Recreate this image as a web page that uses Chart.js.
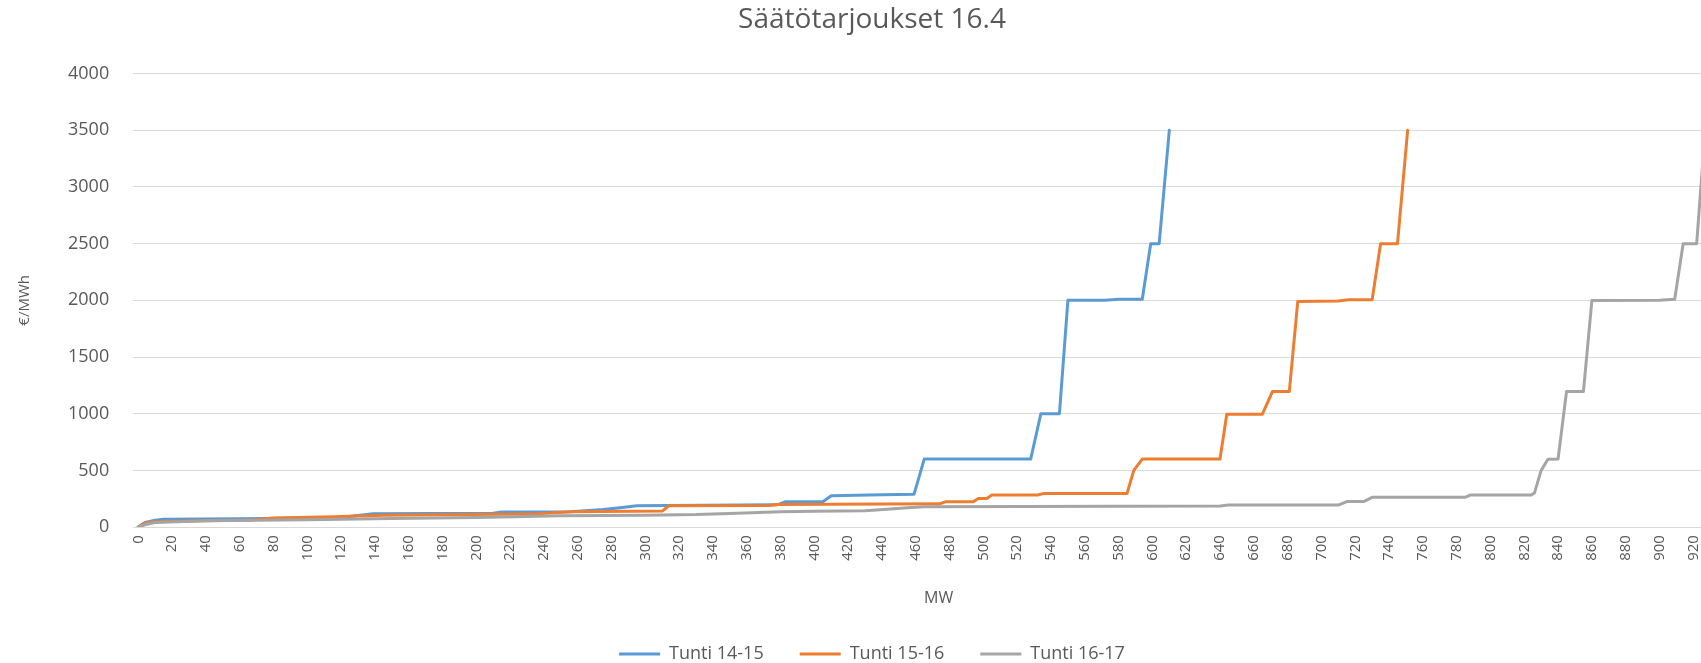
<!DOCTYPE html>
<html lang="fi">
<head>
<meta charset="utf-8">
<title>Säätötarjoukset 16.4</title>
<script src="https://cdn.jsdelivr.net/npm/chart.js@4.4.1/dist/chart.umd.min.js"></script>
<style>
  html, body { margin: 0; padding: 0; background: #fff; overflow: hidden; }
  /* the original picture is cut on the right, so the chart is a bit wider than the window */
  #wrap { position: relative; width: 1744px; height: 663px; }
</style>
</head>
<body>
<div id="wrap"><canvas id="bidChart"></canvas></div>
<script>
// datos: MW acumulado y precio €/MWh
const seriesNames = ['Tunti 14-15', 'Tunti 15-16', 'Tunti 16-17'];

const mw1415    = [0, 4, 10, 15, 60, 122, 126, 139, 210, 215, 256, 275, 285, 295, 313, 378, 383, 405, 410, 440, 459, 465, 528, 534, 545, 550, 572, 580, 594, 599, 604, 610];
const price1415 = [0, 40, 60, 70, 74, 82, 95, 118, 121, 133, 136, 155, 170, 188, 190, 196, 224, 224, 277, 284, 290, 600, 600, 1000, 1000, 2000, 2000, 2010, 2010, 2500, 2500, 3500];

const mw1516    = [0, 3, 8, 14, 66, 80, 116, 125, 145, 213, 236, 256, 310, 314, 373, 378, 474, 478, 494, 497, 502, 505, 532, 536, 585, 589, 594, 640, 644, 665, 671, 681, 686, 710, 716, 730, 735, 745, 751];
const price1516 = [0, 30, 45, 50, 62, 80, 91, 95, 105, 112, 118, 135, 141, 188, 190, 200, 205, 224, 224, 253, 253, 283, 283, 297, 297, 500, 600, 600, 995, 995, 1195, 1195, 1990, 1995, 2005, 2005, 2500, 2500, 3500];

const mw1617    = [0, 5, 10, 40, 100, 150, 200, 250, 300, 330, 350, 380, 400, 430, 445, 455, 465, 640, 645, 710, 715, 725, 730, 785, 788, 824, 826, 830, 834, 840, 845, 855, 860, 900, 909, 914, 922, 927];
const price1617 = [0, 25, 40, 55, 65, 75, 85, 100, 105, 110, 120, 135, 140, 145, 160, 170, 180, 185, 194, 194, 225, 225, 262, 262, 282, 282, 300, 500, 598, 600, 1195, 1195, 1998, 2000, 2010, 2500, 2500, 3500];

const mwTicks    = Array.from({ length: 47 }, (_, i) => i * 20);   // 0, 20, ... 920
const priceTicks = [0, 500, 1000, 1500, 2000, 2500, 3000, 3500, 4000];

const lineColors = ['#5B9BD5', '#ED7D31', '#A5A5A5'];
const textColor  = '#595959';

Chart.defaults.font.family = '"Open Sans", "Liberation Sans", sans-serif';
Chart.defaults.color = textColor;

// 1. arma los puntos {x, y} de cada serie
function toPoints(xs, ys) {
  return xs.map((x, i) => ({ x: x, y: ys[i] }));
}

function makeDataset(idx, xs, ys) {
  return {
    label: seriesNames[idx],
    data: toPoints(xs, ys),
    borderColor: lineColors[idx],
    borderWidth: 3,
    borderJoinStyle: 'round',
    borderCapStyle: 'round',
    tension: 0,
    pointRadius: 0,
    pointHoverRadius: 0,
    pointStyle: 'line',
    pointBorderColor: lineColors[idx],
    pointBorderWidth: 3,
    order: 3 - idx          // como en Excel: la última serie queda encima
  };
}

// 2. crea el gráfico
function initChart() {
  const ctx = document.getElementById('bidChart').getContext('2d');
  return new Chart(ctx, {
    type: 'line',
    data: {
      datasets: [
        makeDataset(0, mw1415, price1415),
        makeDataset(1, mw1516, price1516),
        makeDataset(2, mw1617, price1617)
      ]
    },
    options: {
      responsive: true,
      maintainAspectRatio: false,
      animation: false,
      layout: { padding: { left: 0, right: 0, top: 0, bottom: -10 } },
      plugins: {
        title: {
          display: true,
          text: 'Säätötarjoukset 16.4',
          color: textColor,
          font: { size: 28, weight: 'normal' },
          padding: { top: 3, bottom: 37 }
        },
        legend: {
          position: 'bottom',
          labels: {
            usePointStyle: true,
            pointStyleWidth: 41,
            padding: 36,
            color: textColor,
            font: { size: 18 },
            sort: (a, b) => a.datasetIndex - b.datasetIndex
          }
        },
        tooltip: { enabled: false }
      },
      scales: {
        x: {
          type: 'linear',
          min: -3,
          max: 950,
          afterBuildTicks: axis => { axis.ticks = mwTicks.map(v => ({ value: v })); },
          grid: { display: false, drawTicks: false },
          border: { display: false },
          ticks: {
            autoSkip: false,
            minRotation: 90,
            maxRotation: 90,
            padding: 8,
            color: textColor,
            font: { size: 15 },
            callback: v => String(v)
          },
          title: {
            display: true,
            text: 'MW',
            color: textColor,
            font: { size: 16 },
            padding: { top: 20, bottom: 1 }
          }
        },
        y: {
          min: 0,
          max: 4000,
          afterBuildTicks: axis => { axis.ticks = priceTicks.map(v => ({ value: v })); },
          grid: { color: '#D9D9D9', lineWidth: 1, drawTicks: false },
          border: { display: false },
          ticks: {
            padding: 24,
            color: textColor,
            font: { size: 18 },
            callback: v => String(v)
          },
          title: {
            display: true,
            text: '€/MWh',
            color: textColor,
            font: { size: 15 },
            padding: { top: 16, bottom: 10 }
          }
        }
      }
    }
  });
}

document.addEventListener('DOMContentLoaded', () => {
  initChart();
});
</script>
</body>
</html>
